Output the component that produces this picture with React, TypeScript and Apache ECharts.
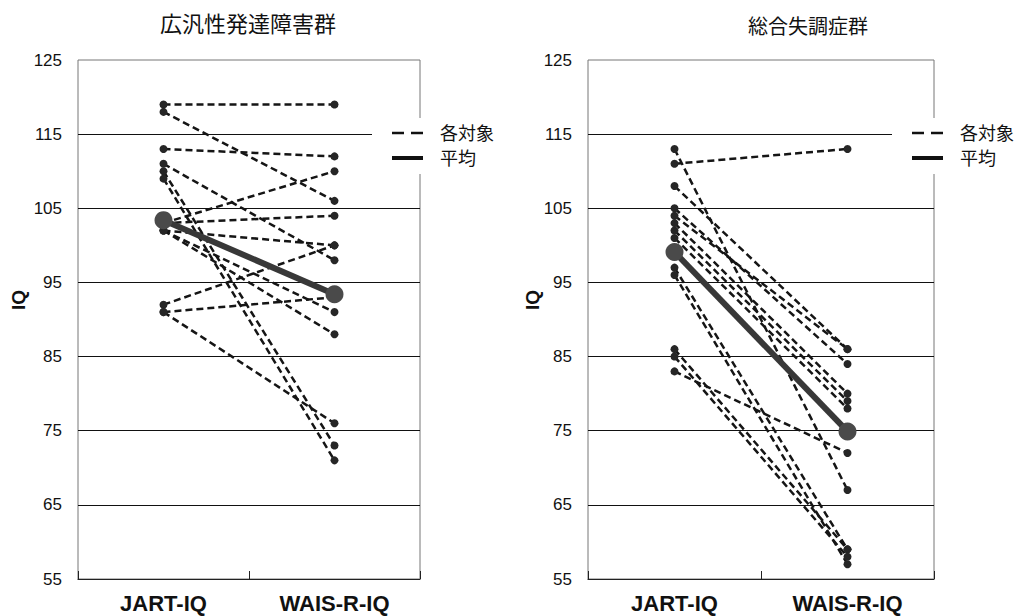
import React, { useEffect, useRef } from 'react';
import * as echarts from 'echarts';

// ---- data ----
const categories = ['JART-IQ', 'WAIS-R-IQ'];
const yMin = 55;
const yMax = 125;
const yStep = 10;

const panelTitles = ['広汎性発達障害群', '総合失調症群'];
const legendNames = ['各対象', '平均'];
const axisName = 'IQ';

// 広汎性発達障害群 : each subject (JART -> WAIS-R)
const pddJart = [119, 118, 113, 111, 110, 109, 103, 103, 102, 102, 102, 92, 91, 91];
const pddWais = [119, 106, 112, 98, 73, 71, 110, 104, 100, 91, 88, 100, 93, 76];
const pddMean = [103.4, 93.4];

// 総合失調症群 : each subject (JART -> WAIS-R)
const sczJart = [111, 113, 108, 105, 104, 103, 102, 101, 97, 96, 86, 85, 83];
const sczWais = [113, 67, 86, 84, 86, 80, 79, 78, 59, 57, 59, 58, 72];
const sczMean = [99.1, 74.9];

const LATIN = '"Liberation Sans", Arial, sans-serif';
const CJK = '"Noto Sans CJK JP", "Noto Sans", sans-serif';

export default function App() {
  const ref = useRef<HTMLDivElement>(null);

  useEffect(() => {
    const chart = echarts.init(ref.current!, null, { renderer: 'svg' });

    const grids = [
      { left: 78, top: 60, width: 342, height: 519 },
      { left: 588, top: 60, width: 346, height: 519 },
    ];

    const subject = (a: number, b: number, idx: number) => ({
      type: 'line',
      name: legendNames[0],
      xAxisIndex: idx,
      yAxisIndex: idx,
      data: [a, b],
      symbol: 'circle',
      symbolSize: 8,
      itemStyle: { color: '#262626' },
      lineStyle: { color: '#151515', width: 2.5, type: [7, 4] },
      silent: true,
      z: 3,
    });

    const mean = (vals: number[], idx: number) => ({
      type: 'line',
      name: legendNames[1],
      xAxisIndex: idx,
      yAxisIndex: idx,
      data: vals,
      symbol: 'circle',
      symbolSize: 18,
      itemStyle: { color: '#4a4a4a' },
      lineStyle: { color: '#383838', width: 6 },
      silent: true,
      z: 4,
    });

    const series: any[] = [];
    pddJart.forEach((v, i) => series.push(subject(v, pddWais[i], 0)));
    series.push(mean(pddMean, 0));
    sczJart.forEach((v, i) => series.push(subject(v, sczWais[i], 1)));
    series.push(mean(sczMean, 1));

    const xAxis = [0, 1].map((i) => ({
      type: 'category',
      gridIndex: i,
      data: categories,
      boundaryGap: true,
      axisLine: { show: true, lineStyle: { color: '#222', width: 1.2 } },
      axisTick: { show: true, inside: true, length: 8, lineStyle: { color: '#222' } },
      axisLabel: {
        fontFamily: LATIN,
        fontWeight: 'bold',
        fontSize: 22,
        color: '#111',
        margin: 13,
      },
      splitLine: { show: false },
    }));

    const yAxis = [0, 1].map((i) => ({
      type: 'value',
      gridIndex: i,
      min: yMin,
      max: yMax,
      interval: yStep,
      axisLine: { show: false },
      axisTick: { show: false },
      axisLabel: { fontFamily: LATIN, fontSize: 17, color: '#111', margin: 16 },
      splitLine: {
        show: true,
        showMinLine: false,
        showMaxLine: false,
        lineStyle: { color: '#111', width: 1.2 },
      },
    }));

    const legendBlock = (dx: number) => [
      {
        type: 'rect',
        z: 50,
        shape: { x: 372 + dx, y: 118, width: 150, height: 56 },
        style: { fill: '#ffffff' },
      },
      {
        type: 'line',
        z: 51,
        shape: { x1: 392 + dx, y1: 133, x2: 423 + dx, y2: 133 },
        style: { stroke: '#111', lineWidth: 2.5, lineDash: [12, 7] },
      },
      {
        type: 'line',
        z: 51,
        shape: { x1: 392 + dx, y1: 158, x2: 423 + dx, y2: 158 },
        style: { stroke: '#111', lineWidth: 4 },
      },
      {
        type: 'text',
        z: 51,
        x: 440 + dx,
        y: 132,
        style: {
          text: legendNames[0],
          fontFamily: CJK,
          fontSize: 18,
          lineHeight: 20,
          fill: '#111',
          textAlign: 'left',
          textVerticalAlign: 'middle',
        },
      },
      {
        type: 'text',
        z: 51,
        x: 440 + dx,
        y: 157,
        style: {
          text: legendNames[1],
          fontFamily: CJK,
          fontSize: 18,
          lineHeight: 20,
          fill: '#111',
          textAlign: 'left',
          textVerticalAlign: 'middle',
        },
      },
    ];

    const titleText = (text: string, x: number, y: number, size: number) => ({
      type: 'text',
      z: 51,
      x,
      y,
      style: {
        text,
        fontFamily: CJK,
        fontSize: size,
        fill: '#111',
        textAlign: 'center',
        textVerticalAlign: 'middle',
      },
    });

    const iqText = (x: number) => ({
      type: 'text',
      z: 51,
      x,
      y: 300,
      rotation: Math.PI / 2,
      style: {
        text: axisName,
        fontFamily: LATIN,
        fontWeight: 'bold',
        fontSize: 19,
        fill: '#111',
        textAlign: 'center',
        textVerticalAlign: 'middle',
      },
    });

    chart.setOption({
      animation: false,
      backgroundColor: '#ffffff',
      grid: grids.map((g) => ({
        ...g,
        show: true,
        borderColor: '#777',
        borderWidth: 1,
        backgroundColor: 'transparent',
      })),
      xAxis,
      yAxis,
      series,
      graphic: [
        titleText(panelTitles[0], 248, 22, 22),
        titleText(panelTitles[1], 808, 25, 20),
        iqText(18),
        iqText(532),
        ...legendBlock(0),
        ...legendBlock(520),
      ],
    });

    return () => chart.dispose();
  }, []);

  return (
    <div
      ref={ref}
      style={{ position: 'absolute', left: 0, top: 0, width: 1031, height: 616 }}
    />
  );
}
